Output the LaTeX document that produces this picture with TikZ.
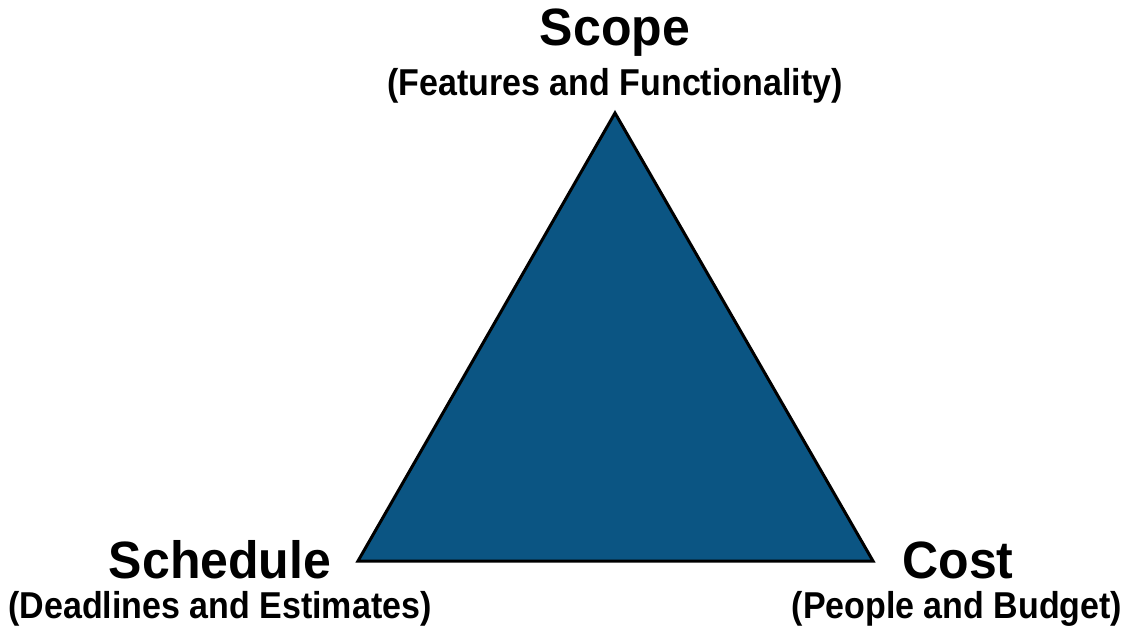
\documentclass[tikz,border=0pt]{standalone}
\usepackage{fontspec}
\setmainfont{Liberation Sans}
\definecolor{tribl}{RGB}{11,85,131}
\begin{document}
\begin{tikzpicture}[x=1pt,y=-1pt,
  title/.style={font=\bfseries\fontsize{50}{56}\selectfont, inner sep=0pt, anchor=center, yscale=1.05},
  sub/.style={font=\bfseries\fontsize{34}{38}\selectfont, inner sep=0pt, anchor=center, yscale=1.1},
  tri/.style={fill=tribl, draw=black, line width=3pt, line join=miter}]
\useasboundingbox[fill=white] (0,0) rectangle (1128,627);
\coordinate (top) at (615,113);
\coordinate (bl) at (358,561);
\coordinate (br) at (873,561);
\filldraw[tri] (top) -- (br) -- (bl) -- cycle;
\node[title] (scope) at (615,33) {Scope};
\node[sub] (scopesub) at (615,86) {(Features and Functionality)};
\node[title] (sched) at (220,560) {Schedule};
\node[sub] (schedsub) at (220,609) {(Deadlines and Estimates)};
\node[title] (cost) at (958,560) {Cost};
\node[sub] (costsub) at (957,609) {(People and Budget)};
\end{tikzpicture}
\end{document}
